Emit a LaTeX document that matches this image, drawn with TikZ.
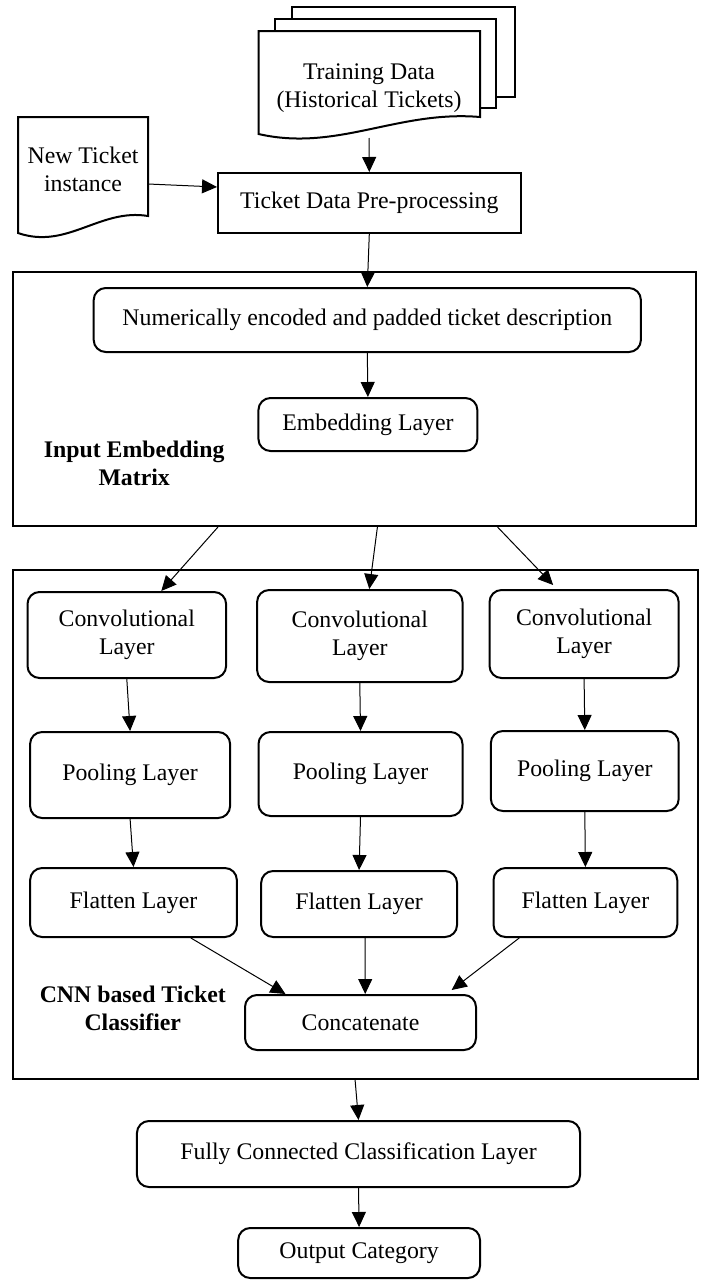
\documentclass[tikz,border=0pt]{standalone}
\usepackage{fontspec}
\setmainfont{Liberation Serif}
\usetikzlibrary{arrows.meta}
\newcommand{\twol}[2]{\begin{tabular}{@{}c@{}}#1\\#2\end{tabular}}
\begin{document}
\begin{tikzpicture}[x=1pt,y=-1pt,
  every node/.style={font=\fontsize{23.8}{28}\selectfont, inner sep=0pt},
  rbox/.style={draw, line width=2pt, rounded corners=12pt},
  sbox/.style={draw, line width=2pt},
  outer/.style={draw, line width=2.2pt},
  arr/.style={-{Triangle[length=15pt,width=14pt]}, line width=1pt},
  doc/.style={draw, fill=white, line width=2pt, line join=miter}]
\fill[white] (0,0) rectangle (707,1280);
\useasboundingbox (0,0) rectangle (707,1280);

% Training data stack
\draw[doc] (292.3,7) rectangle (515.2,97);
\draw[doc] (274.7,19) rectangle (496.3,108);
\draw[doc] (258.5,31) -- (480,31) -- (480,117) .. controls (398,110) and (337,152) .. (258.5,134) -- cycle;
\node (train) at (369,88) {\twol{Training Data}{(Historical Tickets)}};
\coordinate (trainB) at (369,138);

% New ticket
\draw[doc] (18,117) -- (148,117) -- (148,216) .. controls (100,208) and (67,250) .. (18,233) -- cycle;
\node (newt) at (83,172) {\twol{New Ticket}{instance}};
\coordinate (newR) at (148,184);

% Pre-processing
\node[sbox, minimum width=302.6pt, minimum height=60pt] (pre) at (369.3,203) {Ticket Data Pre-processing};

% Input embedding outer box
\node[outer, minimum width=683.6pt, minimum height=254pt] (inbox) at (354.4,399) {};
\node[rbox, minimum width=547.2pt, minimum height=64pt] (num) at (367.3,320) {Numerically encoded and padded ticket description};
\node[rbox, minimum width=218.9pt, minimum height=53pt] (emb) at (367.9,424.5) {Embedding Layer};
\node[font=\fontsize{23.8}{28}\selectfont\bfseries] (inlab) at (134.2,466) {\twol{Input Embedding}{Matrix}};

% CNN outer box
\node[outer, minimum width=685pt, minimum height=509pt] (cnnbox) at (355.1,824.5) {};
\node[rbox, minimum width=198.6pt, minimum height=86pt] (conv1) at (126.8,635) {\twol{Convolutional}{Layer}};
\node[rbox, minimum width=205.4pt, minimum height=92pt] (conv2) at (359.8,636) {\twol{Convolutional}{Layer}};
\node[rbox, minimum width=189.1pt, minimum height=88pt] (conv3) at (584.1,634) {\twol{Convolutional}{Layer}};
\node[rbox, minimum width=200pt, minimum height=86pt] (pool1) at (130.1,775) {Pooling Layer};
\node[rbox, minimum width=204pt, minimum height=84pt] (pool2) at (360.5,774) {Pooling Layer};
\node[rbox, minimum width=187.8pt, minimum height=80pt] (pool3) at (584.8,771) {Pooling Layer};
\node[rbox, minimum width=206.7pt, minimum height=69pt] (flat1) at (133.5,902.5) {Flatten Layer};
\node[rbox, minimum width=195.9pt, minimum height=66pt] (flat2) at (359.1,904) {Flatten Layer};
\node[rbox, minimum width=183.7pt, minimum height=69pt] (flat3) at (585.4,902.5) {Flatten Layer};
\node[rbox, minimum width=231pt, minimum height=55pt] (concat) at (360.5,1022.5) {Concatenate};
\node[font=\fontsize{23.8}{28}\selectfont\bfseries] (cnnlab) at (132.8,1011) {\twol{CNN based Ticket}{Classifier}};

% Output part
\node[rbox, minimum width=443.1pt, minimum height=66pt] (fc) at (358.5,1154) {Fully Connected Classification Layer};
\node[rbox, minimum width=241.8pt, minimum height=50pt] (out) at (359.1,1253) {Output Category};

% Connectors
\draw[arr] (trainB) -- (pre.north);
\draw[arr] (newR) -- ([yshift=16pt]pre.west);
\draw[arr] (pre.south) -- (num.north);
\draw[arr] (num.south) -- (emb.north);
\draw[arr] ([xshift=-136.5pt]inbox.south) -- ([xshift=34.5pt]conv1.north);
\draw[arr] ([xshift=23pt]inbox.south) -- ([xshift=9.5pt]conv2.north);
\draw[arr] ([xshift=143.2pt]inbox.south) -- ([xshift=-31pt,yshift=4pt]conv3.north);
\draw[arr] (conv1.south) -- (pool1.north);
\draw[arr] (conv2.south) -- (pool2.north);
\draw[arr] (conv3.south) -- (pool3.north);
\draw[arr] (pool1.south) -- (flat1.north);
\draw[arr] (pool2.south) -- (flat2.north);
\draw[arr] (pool3.south) -- (flat3.north);
\draw[arr] ([xshift=57.4pt]flat1.south) -- ([xshift=-75pt]concat.north);
\draw[arr] ([xshift=6.1pt]flat2.south) -- ([xshift=4.7pt]concat.north);
\draw[arr] ([xshift=-66.2pt]flat3.south) -- ([xshift=91.2pt,yshift=4pt]concat.north);
\draw[arr] (cnnbox.south) -- (fc.north);
\draw[arr] (fc.south) -- (out.north);
\end{tikzpicture}
\end{document}
